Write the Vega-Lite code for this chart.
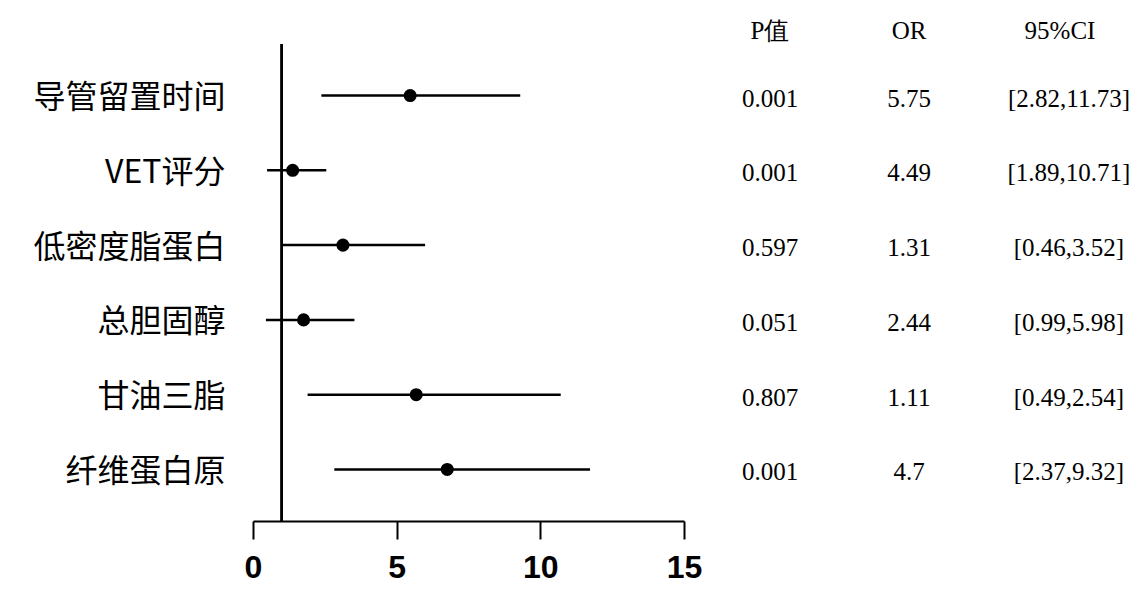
{
  "$schema": "https://vega.github.io/schema/vega-lite/v6.json",
  "background": "white",
  "padding": {"left": 32, "top": 19, "right": 5, "bottom": 5},
  "config": {"view": {"stroke": null}},
  "datasets": {
    "rows": [
      {"label": "导管留置时间", "or_plot": 5.47, "lo": 2.38, "hi": 9.30, "p": "0.001", "or": "5.75", "ci": "[2.82,11.73]"},
      {"label": "VET评分", "or_plot": 1.38, "lo": 0.49, "hi": 2.55, "p": "0.001", "or": "4.49", "ci": "[1.89,10.71]"},
      {"label": "低密度脂蛋白", "or_plot": 3.13, "lo": 1.01, "hi": 5.99, "p": "0.597", "or": "1.31", "ci": "[0.46,3.52]"},
      {"label": "总胆固醇", "or_plot": 1.76, "lo": 0.45, "hi": 3.53, "p": "0.051", "or": "2.44", "ci": "[0.99,5.98]"},
      {"label": "甘油三脂", "or_plot": 5.68, "lo": 1.90, "hi": 10.71, "p": "0.807", "or": "1.11", "ci": "[0.49,2.54]"},
      {"label": "纤维蛋白原", "or_plot": 6.76, "lo": 2.83, "hi": 11.73, "p": "0.001", "or": "4.7", "ci": "[2.37,9.32]"}
    ]
  },
  "bounds": "flush",
  "spacing": 46,
  "hconcat": [
    {
      "width": 431,
      "height": 477,
      "data": {"name": "rows"},
      "encoding": {
        "y": {
          "field": "label", "type": "nominal", "sort": null,
          "scale": {"type": "point", "padding": 0.69},
          "axis": {"title": null, "domain": false, "ticks": false, "labelFont": "Noto Sans CJK SC", "labelFontSize": 32, "labelColor": "black", "labelPadding": 28, "labelLimit": 0, "labelOffset": 2}
        }
      },
      "layer": [
        {
          "mark": {"type": "rule", "color": "black", "strokeWidth": 2},
          "encoding": {
            "x": {"datum": 1, "type": "quantitative", "scale": {"domain": [0, 15], "nice": false, "zero": false}},
            "y": null
          }
        },
        {
          "mark": {"type": "rule", "color": "black", "strokeWidth": 2.5},
          "encoding": {
            "x": {
              "field": "lo", "type": "quantitative",
              "scale": {"domain": [0, 15], "nice": false, "zero": false},
              "axis": {"title": null, "values": [0, 5, 10, 15], "grid": false, "domainColor": "black", "domainWidth": 2, "tickColor": "black", "tickWidth": 2, "tickSize": 18, "labelFont": "Liberation Sans", "labelFontWeight": "bold", "labelFontSize": 32, "labelColor": "black", "labelPadding": 13, "labelFlush": false}
            },
            "x2": {"field": "hi"}
          }
        },
        {
          "mark": {"type": "point", "filled": true, "color": "black", "opacity": 1, "size": 170},
          "encoding": {
            "x": {"field": "or_plot", "type": "quantitative"}
          }
        }
      ]
    },
    {
      "bounds": "flush",
      "spacing": 0,
      "hconcat": [
        {
          "width": 80, "height": 477,
          "data": {"name": "rows"},
          "title": {"text": "P值", "font": "Liberation Serif", "fontSize": 25, "fontWeight": "normal", "color": "black", "anchor": "middle", "offset": 0},
          "mark": {"type": "text", "font": "Liberation Serif", "fontSize": 25, "color": "black", "dy": 3},
          "encoding": {
            "y": {"field": "label", "type": "nominal", "sort": null, "scale": {"type": "point", "padding": 0.69}, "axis": null},
            "text": {"field": "p"}
          }
        },
        {
          "width": 198, "height": 477,
          "data": {"name": "rows"},
          "title": {"text": "OR", "font": "Liberation Serif", "fontSize": 25, "fontWeight": "normal", "color": "black", "anchor": "middle", "offset": 0},
          "mark": {"type": "text", "font": "Liberation Serif", "fontSize": 25, "color": "black", "dy": 3},
          "encoding": {
            "y": {"field": "label", "type": "nominal", "sort": null, "scale": {"type": "point", "padding": 0.69}, "axis": null},
            "text": {"field": "or"}
          }
        },
        {
          "width": 122, "height": 477,
          "data": {"name": "rows"},
          "title": {"text": "95%CI", "font": "Liberation Serif", "fontSize": 25, "fontWeight": "normal", "color": "black", "anchor": "middle", "offset": 0, "dx": -9},
          "mark": {"type": "text", "font": "Liberation Serif", "fontSize": 25, "color": "black", "dy": 3},
          "encoding": {
            "y": {"field": "label", "type": "nominal", "sort": null, "scale": {"type": "point", "padding": 0.69}, "axis": null},
            "text": {"field": "ci"}
          }
        }
      ]
    }
  ]
}
